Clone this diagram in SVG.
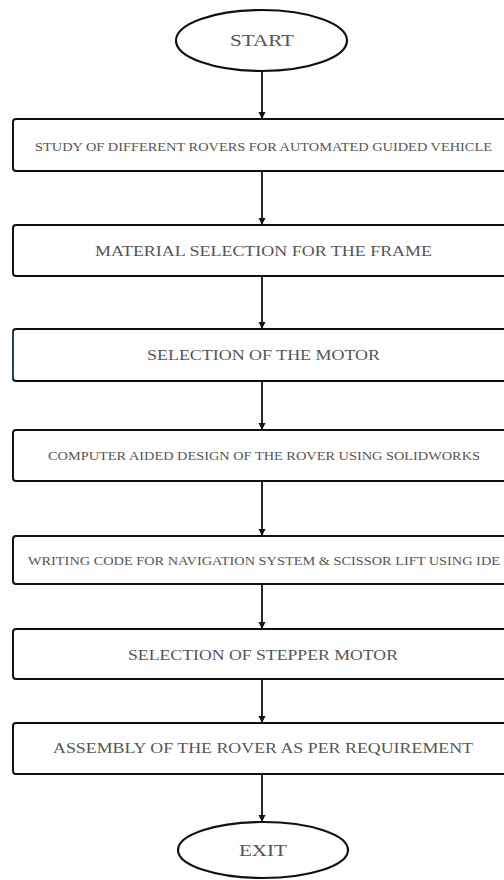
<svg xmlns="http://www.w3.org/2000/svg" width="504" height="880" viewBox="0 0 504 880">
<style>
.box{fill:#fff;stroke:#111;stroke-width:2}
.term{fill:#fff;stroke:#111;stroke-width:2.2}
.lbl{font-family:"Liberation Serif","Times New Roman",serif;fill:#555;text-anchor:middle}
.con{stroke:#111;stroke-width:1.8;fill:none;marker-end:url(#ah)}
</style>
<defs>
<marker id="ah" viewBox="0 0 10 10" refX="10" refY="5" markerWidth="4" markerHeight="4" orient="auto" markerUnits="strokeWidth">
<path d="M0,0 L10,5 L0,10 z" fill="#111"/>
</marker>
</defs>
<rect width="504" height="880" fill="#fff"/>
<g id="connectors">
<line class="con" x1="262" y1="71" x2="262" y2="119"/>
<line class="con" x1="262" y1="171" x2="262" y2="225"/>
<line class="con" x1="262" y1="276" x2="262" y2="329"/>
<line class="con" x1="262" y1="381" x2="262" y2="430"/>
<line class="con" x1="262" y1="481" x2="262" y2="536"/>
<line class="con" x1="262" y1="584" x2="262" y2="629"/>
<line class="con" x1="262" y1="679" x2="262" y2="723"/>
<line class="con" x1="262" y1="774" x2="262" y2="822"/>
</g>
<g id="start">
<ellipse class="term" cx="261.5" cy="40.5" rx="85.5" ry="30.5"/>
<text class="lbl" x="262" y="46" font-size="16" textLength="64" lengthAdjust="spacingAndGlyphs">START</text>
</g>
<g id="n1">
<rect class="box" x="13" y="119" width="500" height="52" rx="3"/>
<text class="lbl" x="263.5" y="151" font-size="12" textLength="457" lengthAdjust="spacingAndGlyphs">STUDY OF DIFFERENT ROVERS FOR AUTOMATED GUIDED VEHICLE</text>
</g>
<g id="n2">
<rect class="box" x="13" y="225" width="500" height="51" rx="3"/>
<text class="lbl" x="263.5" y="256" font-size="14" textLength="337" lengthAdjust="spacingAndGlyphs">MATERIAL SELECTION FOR THE FRAME</text>
</g>
<g id="n3">
<rect class="box" x="13" y="329" width="500" height="52" rx="3"/>
<line x1="13" y1="331" x2="13" y2="379" stroke="#3a6ea5" stroke-width="1"/>
<text class="lbl" x="263.5" y="360" font-size="14" textLength="233" lengthAdjust="spacingAndGlyphs">SELECTION OF THE MOTOR</text>
</g>
<g id="n4">
<rect class="box" x="13" y="430" width="500" height="51" rx="3"/>
<text class="lbl" x="264" y="460" font-size="11.5" textLength="432" lengthAdjust="spacingAndGlyphs">COMPUTER AIDED DESIGN OF THE ROVER USING SOLIDWORKS</text>
</g>
<g id="n5">
<rect class="box" x="13" y="536" width="500" height="48" rx="3"/>
<text class="lbl" x="264" y="565" font-size="12" textLength="472" lengthAdjust="spacingAndGlyphs">WRITING CODE FOR NAVIGATION SYSTEM &amp; SCISSOR LIFT USING IDE</text>
</g>
<g id="n6">
<rect class="box" x="13" y="629" width="500" height="50" rx="3"/>
<text class="lbl" x="263" y="660" font-size="14" textLength="270" lengthAdjust="spacingAndGlyphs">SELECTION OF STEPPER MOTOR</text>
</g>
<g id="n7">
<rect class="box" x="13" y="723" width="500" height="51" rx="3"/>
<text class="lbl" x="263" y="753" font-size="14" textLength="420" lengthAdjust="spacingAndGlyphs">ASSEMBLY OF THE ROVER AS PER REQUIREMENT</text>
</g>
<g id="exit">
<ellipse class="term" cx="263" cy="850" rx="85" ry="28"/>
<text class="lbl" x="263" y="856" font-size="16" textLength="48" lengthAdjust="spacingAndGlyphs">EXIT</text>
</g>
</svg>
